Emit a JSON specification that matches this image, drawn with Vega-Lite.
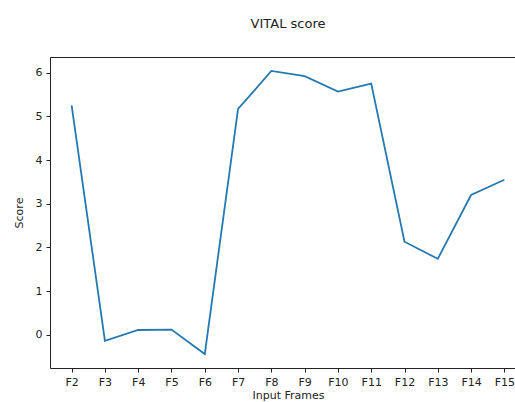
{
  "$schema": "https://vega.github.io/schema/vega-lite/v6.json",
  "autosize": {"type": "none"},
  "padding": {"left": 50, "top": 57, "right": 0, "bottom": 34},
  "width": 476,
  "height": 311,
  "background": "white",
  "title": {"text": "VITAL score", "fontSize": 13, "font": "DejaVu Sans", "fontWeight": "normal", "color": "#222", "offset": 26, "anchor": "middle"},
  "config": {
    "view": {"stroke": "#222", "strokeWidth": 1},
    "axis": {"grid": false, "domain": false, "labelFont": "DejaVu Sans", "titleFont": "DejaVu Sans", "labelFontSize": 11, "titleFontSize": 11, "labelColor": "#222", "titleColor": "#222", "titleFontWeight": "normal", "tickColor": "#222", "tickSize": 4}
  },
  "data": {"values": [
    {"frame": "F2", "score": 5.25},
    {"frame": "F3", "score": -0.14},
    {"frame": "F4", "score": 0.11},
    {"frame": "F5", "score": 0.12},
    {"frame": "F6", "score": -0.44},
    {"frame": "F7", "score": 5.17},
    {"frame": "F8", "score": 6.04},
    {"frame": "F9", "score": 5.92},
    {"frame": "F10", "score": 5.57},
    {"frame": "F11", "score": 5.75},
    {"frame": "F12", "score": 2.13},
    {"frame": "F13", "score": 1.74},
    {"frame": "F14", "score": 3.2},
    {"frame": "F15", "score": 3.55}
  ]},
  "mark": {"type": "line", "color": "#2579b0", "strokeWidth": 1.8},
  "encoding": {
    "x": {"field": "frame", "type": "ordinal", "sort": null, "scale": {"type": "point", "padding": 0.65},
      "axis": {"title": "Input Frames", "labelAngle": 0, "labelPadding": 4, "titlePadding": 2}},
    "y": {"field": "score", "type": "quantitative", "scale": {"domain": [-0.76, 6.36], "nice": false, "zero": false},
      "axis": {"title": "Score", "values": [0, 1, 2, 3, 4, 5, 6], "labelPadding": 4, "titlePadding": 11}}
  }
}
